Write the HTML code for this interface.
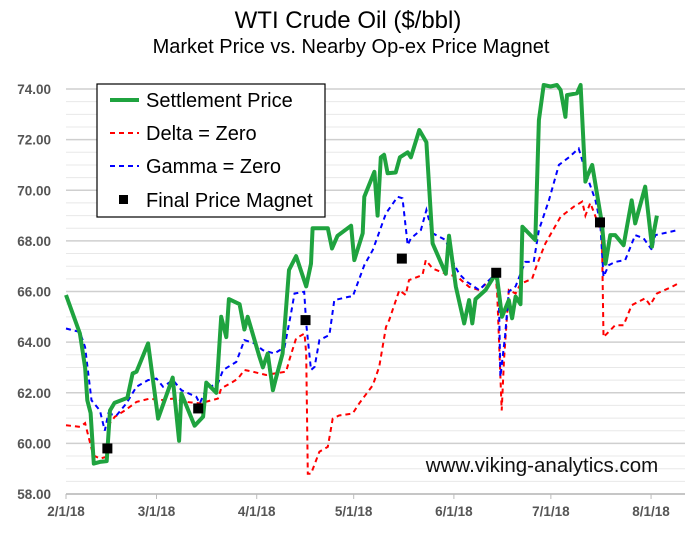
<!DOCTYPE html>
<html><head><meta charset="utf-8"><style>
body{margin:0;background:#fff;}
svg{display:block;font-family:"Liberation Sans",sans-serif;}
</style></head><body>
<svg id="chart" width="696" height="537">
<text x="348" y="28" text-anchor="middle" font-size="24" fill="#000">WTI Crude Oil ($/bbl)</text>
<text x="351" y="53" text-anchor="middle" font-size="20" fill="#000">Market Price vs. Nearby Op-ex Price Magnet</text>
<g id="grid"></g>
<g id="yaxis"></g>
<g id="xaxis"></g>
<g id="series"></g>
<text x="542" y="472" text-anchor="middle" font-size="20.5" fill="#111">www.viking-analytics.com</text>
<g>
<rect x="97" y="84" width="228" height="133" fill="#fff" stroke="#000" stroke-width="1.2"/>
<g><line x1="110" y1="100" x2="139" y2="100" stroke="#1fa33f" stroke-width="4"/><text x="146" y="107" font-size="20">Settlement Price</text></g>
<g><line x1="110" y1="133" x2="139" y2="133" stroke="#f00" stroke-width="2" stroke-dasharray="5,4"/><text x="146" y="140" font-size="20">Delta = Zero</text></g>
<g><line x1="110" y1="166" x2="139" y2="166" stroke="#00f" stroke-width="2" stroke-dasharray="5,4"/><text x="146" y="173" font-size="20">Gamma = Zero</text></g>
<g><rect x="119" y="195" width="9" height="9" fill="#000"/><text x="146" y="207" font-size="20">Final Price Magnet</text></g>
</g>
</svg>
<script>
const xTickDays=[0,28,59,89,120,150,181];
const xTickLabels=["2/1/18","3/1/18","4/1/18","5/1/18","6/1/18","7/1/18","8/1/18"];
const yTicks=[58,60,62,64,66,68,70,72,74];
const settleDays=[0,4.3,5.9,6.6,7.6,8.6,10.5,12.6,13.6,15,19,20.6,21.8,25.4,28.5,33,35,35.7,39.8,42.4,43.4,46.5,48,49.6,50.4,53.7,55.2,56.2,59.9,60.9,62.4,64,65,67,69,71.2,74.3,75.8,76.3,81,82.3,84,88.2,89.2,91.8,92.3,95.4,96.4,97.4,98.4,99.5,102,103.3,105.7,106.7,109.3,111.5,113.4,117.5,118.5,120.6,123.2,124.7,125.7,126.7,129.8,132.9,133.4,134.9,137,138,139.1,140.6,141.2,144.2,145.2,146.3,147.8,149.9,151.9,153,154.5,155,158.1,159.2,160.7,161.2,162.8,165.8,166.9,168.4,169.9,172.5,175,176.1,179.2,181.3,181.8,182.8];
const settleVals=[65.86,64.34,63.0,61.7,61.2,59.2,59.27,59.3,61.3,61.6,61.8,62.76,62.83,63.95,60.98,62.6,60.1,61.97,60.7,61.05,62.4,62.0,65.0,64.2,65.7,65.5,64.5,65.0,63.4,63.0,63.55,62.1,62.6,63.55,66.85,67.4,66.2,67.1,68.5,68.5,67.7,68.2,68.6,67.24,68.3,69.74,70.73,69.0,71.3,71.4,70.67,70.7,71.3,71.5,71.3,72.38,71.9,67.9,66.7,68.2,66.2,64.74,65.66,64.74,65.7,66.06,66.7,66.5,65.0,65.66,64.94,65.8,65.5,68.56,68.16,68.03,72.77,74.16,74.1,74.16,73.96,72.9,73.76,73.83,74.16,70.34,70.54,71.0,68.7,67.1,68.23,68.23,67.83,69.6,68.69,70.14,67.77,68.3,69.0];
const deltaDays=[0,4.3,5.9,8.4,10.5,12.6,13.1,15.1,18.2,21.8,25.9,29,33.1,37.2,41.4,47,48,51.6,53.2,55.2,57.8,61.9,64.5,68.1,69.1,71.2,73.8,74.3,74.8,75.8,78.4,81,82.5,84.5,88.7,90.7,94.9,96.9,99,100,103.1,105.1,106.1,110.3,111.3,113.4,117.5,121.1,124.7,127.8,132.9,133.4,134.8,135.5,137,139.1,140.6,144.2,145.8,148.3,153,157.1,159.7,160.7,162.2,165.8,166.3,168.4,169.9,172.5,175,179.2,180.7,182.8,187.4,189.4];
const deltaVals=[60.72,60.65,60.8,59.53,59.4,59.47,60.72,61.05,61.3,61.64,61.77,61.7,61.77,61.64,61.58,61.77,62.17,62.43,62.56,62.9,62.83,62.7,62.76,62.83,63.3,64.15,64.34,63.55,58.8,58.8,59.67,59.86,60.98,61.1,61.18,61.58,62.3,63.02,64.6,64.87,66.05,65.86,66.45,66.65,67.24,66.91,66.7,66.58,66.18,66.06,66.65,65.92,61.3,63.3,66.06,65.92,66.3,66.5,67.1,67.9,68.95,69.35,69.55,69.0,69.5,68.3,64.2,64.47,64.67,64.67,65.46,65.73,65.46,65.92,66.18,66.32];
const gammaDays=[0,4.3,5.9,7.9,10.5,12,13.1,15.6,18.7,21.8,25.4,28,30,33.1,35.7,40.3,41.4,43.4,47,48.6,52.7,55.2,58.3,60.9,64.5,67.6,69.6,70.7,73.7,74.3,75.8,76.9,78.4,81.5,83,87.7,88.7,92.3,94.9,99,102.6,104.1,105.7,106.7,109.8,111.5,113.4,117.5,120,121.6,124.1,127.8,132.9,133.9,134.4,135.8,137,139.1,140.6,142.1,144.7,146.3,149.4,152.5,155.6,158.6,161.2,163.8,165.3,166.3,167.9,169.9,173,176.1,178.7,181.3,182.3,189.4];
const gammaVals=[64.54,64.4,63.8,61.7,61.3,60.5,61.18,61.1,61.58,62.24,62.5,62.56,62.24,62.5,62.1,61.84,61.58,62.17,62.37,62.9,63.22,64.08,63.95,63.68,63.55,63.8,65.13,65.92,65.99,64.74,62.9,63.02,64.08,64.28,65.66,65.8,65.8,67.04,67.64,69.09,69.74,69.68,67.83,68.1,68.43,69.22,68.3,68.03,67.1,66.7,66.38,66.06,66.7,65.92,62.63,64.21,66.0,66.2,66.7,67.17,67.17,68.43,69.6,71.0,71.3,71.65,70.54,69.6,68.69,66.58,67.04,67.17,67.24,68.23,68.1,67.64,68.23,68.43];
const magnetDays=[12.8,40.9,74.1,103.9,133.1,165.2];
const magnetVals=[59.8,61.38,64.87,67.3,66.74,68.73];

const NS="http://www.w3.org/2000/svg";
const X0=66,X1=685,DAYMAX=191.5,Y0=89,Y1=494,VMIN=58,VMAX=74;
function xs(d){return X0+(d/DAYMAX)*(X1-X0);}
function ys(v){return Y1-(v-VMIN)/(VMAX-VMIN)*(Y1-Y0);}
function mk(tag,attrs,parent){const e=document.createElementNS(NS,tag);for(const k in attrs)e.setAttribute(k,attrs[k]);parent.appendChild(e);return e;}
const grid=document.getElementById('grid'),ya=document.getElementById('yaxis'),xa=document.getElementById('xaxis'),ser=document.getElementById('series');
for(let v=VMIN;v<=VMAX+0.001;v+=0.5){
  const major=Math.abs(v-Math.round(v/2)*2)<0.01;
  const l=mk('line',{x1:X0,x2:X1,y1:ys(v),y2:ys(v),stroke:major?'#cfcfcf':'#e8e8e8','stroke-width':major?1.5:1},grid);
  
  
}
yTicks.forEach(v=>{
  const t=mk('text',{x:51,y:ys(v)+5,'text-anchor':'end','font-size':13.5,'font-weight':'bold',fill:'#555'},ya);
  t.textContent=v.toFixed(2);
  
  
});
const ax=mk('line',{x1:X0,x2:X1,y1:Y1,y2:Y1,stroke:'#bbb','stroke-width':1.5},xa);


xTickDays.forEach((d,i)=>{
  const tk=mk('line',{x1:xs(d),x2:xs(d),y1:Y1,y2:Y1+5,stroke:'#bbb','stroke-width':1},xa);
  
  
  const t=mk('text',{x:xs(d),y:516,'text-anchor':'middle','font-size':13.5,'font-weight':'bold',fill:'#555'},xa);
  t.textContent=xTickLabels[i];
  
  
});
function pts(ds,vs){return ds.map((d,i)=>xs(d).toFixed(1)+','+ys(vs[i]).toFixed(1)).join(' ');}
const pd=mk('polyline',{points:pts(deltaDays,deltaVals),fill:'none',stroke:'#f00','stroke-width':2,'stroke-dasharray':'5,4'},ser);


const pg=mk('polyline',{points:pts(gammaDays,gammaVals),fill:'none',stroke:'#00f','stroke-width':2,'stroke-dasharray':'5,4'},ser);


const ps=mk('polyline',{points:pts(settleDays,settleVals),fill:'none',stroke:'#1fa33f','stroke-width':4,'stroke-linejoin':'round'},ser);


magnetDays.forEach((d,i)=>{
  const r=mk('rect',{x:xs(d)-5,y:ys(magnetVals[i])-5,width:10,height:10,fill:'#000'},ser);
  
  
});
</script>
</body></html>
